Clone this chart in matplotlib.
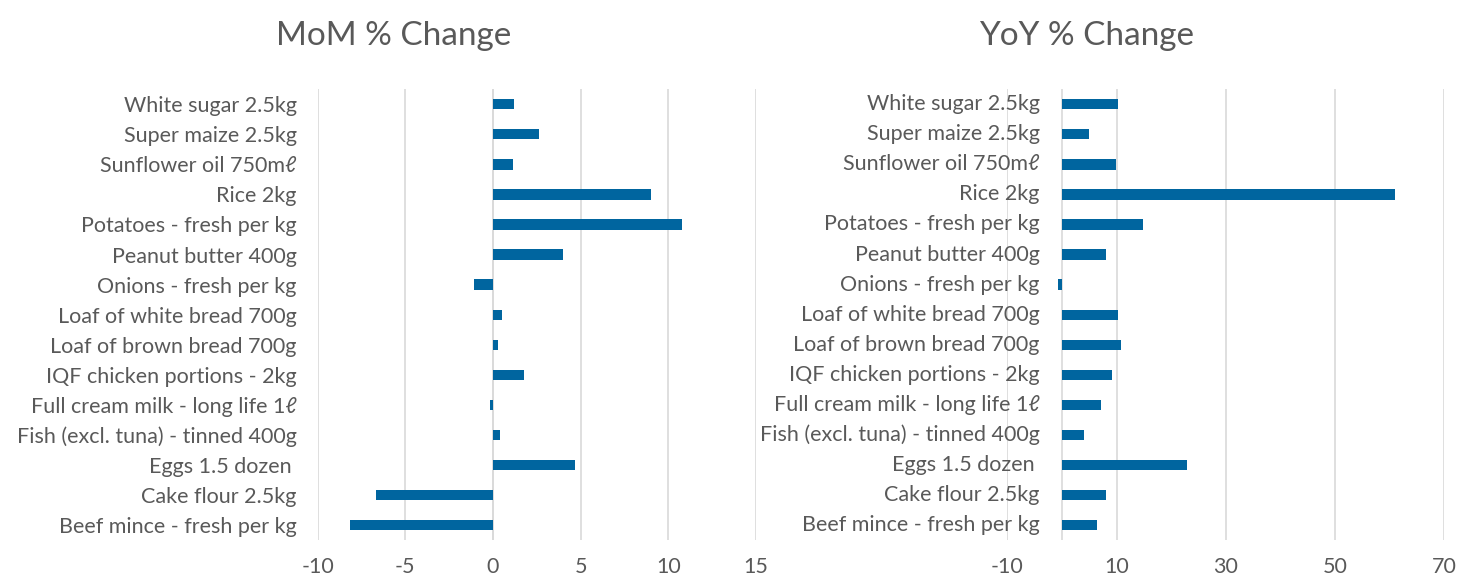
import matplotlib
matplotlib.use("Agg")
import matplotlib.pyplot as plt
import numpy as np

plt.rcParams['font.family'] = ['Lato', 'DejaVu Sans']

# Categories from bottom to top (as drawn by the chart)
items = [
    "Beef mince - fresh per kg",
    "Cake flour 2.5kg",
    "Eggs 1.5 dozen ",
    "Fish (excl. tuna) - tinned 400g",
    "Full cream milk - long life 1ℓ",
    "IQF chicken portions - 2kg",
    "Loaf of brown bread 700g",
    "Loaf of white bread 700g",
    "Onions - fresh per kg",
    "Peanut butter 400g",
    "Potatoes - fresh per kg",
    "Rice 2kg",
    "Sunflower oil 750mℓ",
    "Super maize 2.5kg",
    "White sugar 2.5kg",
]
mom = [-8.15, -6.7, 4.7, 0.4, -0.2, 1.75, 0.3, 0.5, -1.1, 4.0, 10.8, 9.0, 1.15, 2.6, 1.2]
yoy = [6.5, 8.1, 22.9, 4.1, 7.2, 9.2, 10.8, 10.2, -0.8, 8.1, 14.8, 61.0, 9.95, 4.9, 10.3]

bar_color = '#00659F'
grid_color = '#D9D9D9'
text_color = '#595959'
fs = 15.5

fig = plt.figure(figsize=(14.58, 5.79), dpi=100)
ax1 = fig.add_axes([0.2179, 0.0674, 0.3006, 0.7784])
ax2 = fig.add_axes([0.6909, 0.0674, 0.2996, 0.7784])

y = np.arange(len(items))


def style(ax, vals, xlim, ticks):
    ax.barh(y, vals, height=0.34, color=bar_color, zorder=3)
    ax.set_xlim(*xlim)
    ax.set_ylim(-0.5, len(items) - 0.5)
    ax.set_xticks(ticks)
    ax.set_xticklabels([str(t) for t in ticks])
    ax.set_yticks(y)
    ax.grid(axis='x', color=grid_color, linewidth=1.2, zorder=0)
    ax.axvline(0, color=grid_color, linewidth=1.2, zorder=1)
    for s in ax.spines.values():
        s.set_visible(False)
    ax.tick_params(axis='both', length=0, labelsize=fs, colors=text_color)
    ax.tick_params(axis='x', pad=12)


style(ax1, mom, (-10, 15), [-10, -5, 0, 5, 10, 15])
ax1.set_yticklabels(items)
ax1.tick_params(axis='y', pad=15)

# right chart: labels sit next to the zero axis
style(ax2, yoy, (-10, 70), [-10, 10, 30, 50, 70])
ax2.set_yticklabels([])
for yi, name in zip(y, items):
    ax2.annotate(name, xy=(0, yi), xytext=(-16, 0), textcoords='offset points',
                 ha='right', va='center', fontsize=fs, color=text_color,
                 annotation_clip=False)

fig.text(0.270, 0.938, "MoM % Change", ha='center', va='center', fontsize=24, color=text_color)
fig.text(0.7455, 0.938, "YoY % Change", ha='center', va='center', fontsize=24, color=text_color)

fig.savefig("out.png", dpi=100)
